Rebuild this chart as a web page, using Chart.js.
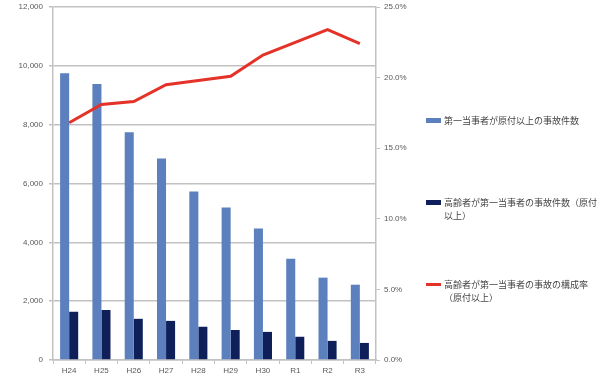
<!DOCTYPE html>
<html><head><meta charset="utf-8">
<script src="https://cdn.jsdelivr.net/npm/chart.js@4/dist/chart.umd.min.js"></script>
<style>
html,body{margin:0;padding:0;background:#fff;}
#wrap{position:relative;width:600px;height:380px;}
canvas{position:absolute;left:0;top:0;}
.lg{position:absolute;left:426px;font-family:"Noto Sans CJK JP","Noto Sans CJK SC",sans-serif;font-size:9px;line-height:13px;color:#454545;}
.sw{position:absolute;left:0;width:15px;}
.tx{position:absolute;left:18px;white-space:nowrap;}
</style></head>
<body><div id="wrap"><canvas id="c" width="600" height="380"></canvas></div>
<script>
const categories = ["H24","H25","H26","H27","H28","H29","H30","R1","R2","R3"];
const totalAccidents = [9750,9380,7740,6850,5730,5180,4470,3440,2800,2560];
const elderlyAccidents = [1640,1700,1400,1330,1130,1020,955,790,650,580];
const elderlyShare = [0.168,0.181,0.183,0.195,0.198,0.201,0.216,0.225,0.234,0.224];
const seriesLabels = ["第一当事者が原付以上の事故件数","高齢者が第一当事者の事故件数（原付以上）","高齢者が第一当事者の事故の構成率（原付以上）"];
const legendLines = [["第一当事者が原付以上の事故件数"],["高齢者が第一当事者の事故件数（原付","以上）"],["高齢者が第一当事者の事故の構成率","（原付以上）"]];
const leftTicks = [0,2000,4000,6000,8000,10000,12000];
const rightTicks = [0,0.05,0.10,0.15,0.20,0.25];

const colors = ["#5b80bd","#0f1f5a","#e53228"];
const tickFont = {family:"'Liberation Sans', Arial, sans-serif", size:8};
const tickColor = "#595959";
const gridColor = "#c2c2c2";

new Chart(document.getElementById('c'), {
  data: {
    labels: categories,
    datasets: [
      {type:'line', label:seriesLabels[2], data:elderlyShare, yAxisID:'y2', borderColor:colors[2], borderWidth:3, pointRadius:0, tension:0, order:0},
      {type:'bar', label:seriesLabels[0], data:totalAccidents, yAxisID:'y', backgroundColor:colors[0], categoryPercentage:0.56, barPercentage:1.0, order:1},
      {type:'bar', label:seriesLabels[1], data:elderlyAccidents, yAxisID:'y', backgroundColor:colors[1], categoryPercentage:0.56, barPercentage:1.0, order:1}
    ]
  },
  options: {
    responsive:false, animation:false,
    layout:{padding:{top:0,right:184,left:0,bottom:0}},
    plugins:{legend:{display:false}, tooltip:{enabled:false}},
    scales:{
      x:{
        grid:{offset:true, drawOnChartArea:false, tickLength:4, color:gridColor, lineWidth:1},
        border:{color:gridColor, width:1.5},
        ticks:{font:tickFont, color:tickColor, padding:2},
        afterFit(s){s.height=20;}
      },
      y:{
        position:'left', min:0, max:12000,
        afterBuildTicks(s){s.ticks = leftTicks.map(v=>({value:v}));},
        grid:{color:gridColor, lineWidth:1.5, tickLength:4},
        border:{color:gridColor, width:1.5},
        ticks:{font:tickFont, color:tickColor, padding:6, callback:v=>v.toLocaleString('en-US')},
        afterFit(s){s.width=53; s.paddingTop=7; s.paddingBottom=0;}
      },
      y2:{
        position:'right', min:0, max:0.25,
        afterBuildTicks(s){s.ticks = rightTicks.map(v=>({value:v}));},
        grid:{drawOnChartArea:false, color:gridColor, tickLength:4, lineWidth:1},
        border:{color:gridColor, width:1.5},
        ticks:{font:tickFont, color:tickColor, padding:4, callback:v=>(v*100).toFixed(1)+'%'},
        afterFit(s){s.width=40; s.paddingTop=7; s.paddingBottom=0;}
      }
    }
  }
});

// HTML legend built from series labels
const wrap = document.getElementById('wrap');
const legendTops = [114, 196, 278];
const swatchH = [5,5,3];
legendLines.forEach((lines,i)=>{
  const d = document.createElement('div');
  d.className='lg'; d.style.top = legendTops[i]+'px';
  const sw = document.createElement('div');
  sw.className='sw'; sw.style.background=colors[i]; sw.style.height=swatchH[i]+'px';
  sw.style.top = (6.5 - swatchH[i]/2)+'px';
  const tx = document.createElement('div'); tx.className='tx';
  tx.innerHTML = lines.join('<br>');
  d.appendChild(sw); d.appendChild(tx); wrap.appendChild(d);
});
</script></body></html>
